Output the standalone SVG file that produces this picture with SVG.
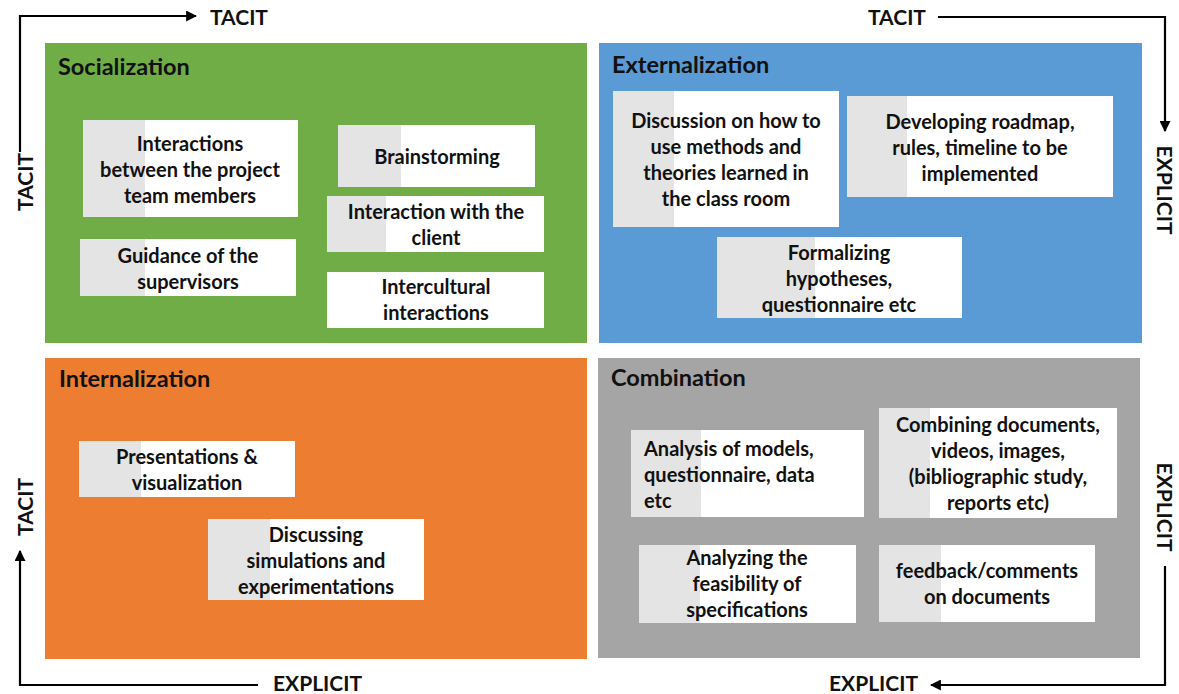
<svg xmlns="http://www.w3.org/2000/svg" width="1179" height="694" viewBox="0 0 1179 694">
<defs>
<style>
text{font-family:Lato,"Liberation Sans",sans-serif;font-weight:bold;fill:#111;}
.t{font-size:20px;text-anchor:middle;}
.l{font-size:20px;text-anchor:start;}
.h{font-size:23.5px;}
.ax{font-size:21px;}
.box{fill:#ffffff;}
.strip{fill:#e4e4e4;}
.conn{fill:none;stroke:#000;stroke-width:2.2;}
</style>
<marker id="ah" viewBox="0 0 10 10" refX="9" refY="5" markerWidth="5" markerHeight="5" orient="auto" markerUnits="strokeWidth">
<path d="M0,0 L10,5 L0,10 Z" fill="#000"/>
</marker>
</defs>
<rect width="1179" height="694" fill="#fff"/>

<g id="quadrants">
<rect id="q-soc" x="45" y="43" width="542" height="300" fill="#70ad47"/>
<rect id="q-ext" x="599" y="43" width="543" height="300" fill="#5b9bd5"/>
<rect id="q-int" x="45" y="358" width="542" height="301" fill="#ed7d31"/>
<rect id="q-com" x="598" y="358" width="542" height="300" fill="#a5a5a5"/>
<text class="h" x="58" y="75">Socialization</text>
<text class="h" x="612" y="73">Externalization</text>
<text class="h" x="59" y="387">Internalization</text>
<text class="h" x="611" y="386">Combination</text>
</g>

<g id="connectors">
<path class="conn" d="M20,152 V16 H196" marker-end="url(#ah)"/>
<path class="conn" d="M938,17 H1165 V131" marker-end="url(#ah)"/>
<path class="conn" d="M1165,566 V685 H931" marker-end="url(#ah)"/>
<path class="conn" d="M258,685 H20 V551" marker-end="url(#ah)"/>
</g>

<g id="axis-labels">
<text class="ax" x="210" y="25">TACIT</text>
<text class="ax" x="868" y="25">TACIT</text>
<text class="ax" x="273" y="691">EXPLICIT</text>
<text class="ax" x="829" y="691">EXPLICIT</text>
<text class="ax" transform="translate(33,182) rotate(-90)" text-anchor="middle">TACIT</text>
<text class="ax" transform="translate(33,507) rotate(-90)" text-anchor="middle">TACIT</text>
<text class="ax" transform="translate(1157,190) rotate(90)" text-anchor="middle">EXPLICIT</text>
<text class="ax" transform="translate(1157,507) rotate(90)" text-anchor="middle">EXPLICIT</text>
</g>

<g id="n1">
<rect class="box" x="83" y="120" width="215" height="97"/><rect class="strip" x="83" y="120" width="62" height="97"/>
<text class="t" x="190" y="151">Interactions</text>
<text class="t" x="190" y="177">between the project</text>
<text class="t" x="190" y="203">team members</text>
</g>
<g id="n2">
<rect class="box" x="80" y="239" width="216" height="57"/><rect class="strip" x="80" y="239" width="65" height="57"/>
<text class="t" x="188" y="263">Guidance of the</text>
<text class="t" x="188" y="289">supervisors</text>
</g>
<g id="n3">
<rect class="box" x="338" y="125" width="197" height="62"/><rect class="strip" x="338" y="125" width="63" height="62"/>
<text class="t" x="437" y="164">Brainstorming</text>
</g>
<g id="n4">
<rect class="box" x="327" y="196" width="217" height="56"/><rect class="strip" x="327" y="196" width="59" height="56"/>
<text class="t" x="436" y="219">Interaction with the</text>
<text class="t" x="436" y="245">client</text>
</g>
<g id="n5">
<rect class="box" x="327" y="272" width="217" height="56"/>
<text class="t" x="436" y="294">Intercultural</text>
<text class="t" x="436" y="320">interactions</text>
</g>

<g id="n6">
<rect class="box" x="613" y="91" width="226" height="136"/><rect class="strip" x="613" y="91" width="61" height="136"/>
<text class="t" x="726" y="128">Discussion on how to</text>
<text class="t" x="726" y="154">use methods and</text>
<text class="t" x="726" y="180">theories learned in</text>
<text class="t" x="726" y="206">the class room</text>
</g>
<g id="n7">
<rect class="box" x="847" y="96" width="266" height="101"/><rect class="strip" x="847" y="96" width="60" height="101"/>
<text class="t" x="980" y="129">Developing roadmap,</text>
<text class="t" x="980" y="155">rules, timeline to be</text>
<text class="t" x="980" y="181">implemented</text>
</g>
<g id="n8">
<rect class="box" x="717" y="237" width="245" height="81"/><rect class="strip" x="717" y="237" width="98" height="81"/>
<text class="t" x="839" y="260">Formalizing</text>
<text class="t" x="839" y="286">hypotheses,</text>
<text class="t" x="839" y="312">questionnaire etc</text>
</g>

<g id="n9">
<rect class="box" x="79" y="441" width="216" height="56"/><rect class="strip" x="79" y="441" width="62" height="56"/>
<text class="t" x="187" y="464">Presentations &amp;</text>
<text class="t" x="187" y="490">visualization</text>
</g>
<g id="n10">
<rect class="box" x="208" y="519" width="216" height="81"/><rect class="strip" x="208" y="519" width="62" height="81"/>
<text class="t" x="316" y="542">Discussing</text>
<text class="t" x="316" y="568">simulations and</text>
<text class="t" x="316" y="594">experimentations</text>
</g>

<g id="n11">
<rect class="box" x="631" y="430" width="233" height="87"/><rect class="strip" x="631" y="430" width="70" height="87"/>
<text class="l" x="644" y="456">Analysis of models,</text>
<text class="l" x="644" y="482">questionnaire, data</text>
<text class="l" x="644" y="508">etc</text>
</g>
<g id="n12">
<rect class="box" x="879" y="408" width="238" height="110"/><rect class="strip" x="879" y="408" width="51" height="110"/>
<text class="t" x="998" y="432">Combining documents,</text>
<text class="t" x="998" y="458">videos, images,</text>
<text class="t" x="998" y="484">(bibliographic study,</text>
<text class="t" x="998" y="510">reports etc)</text>
</g>
<g id="n13">
<rect class="box" x="639" y="545" width="217" height="78"/><rect class="strip" x="639" y="545" width="61" height="78"/>
<text class="t" x="747" y="565">Analyzing the</text>
<text class="t" x="747" y="591">feasibility of</text>
<text class="t" x="747" y="617">specifications</text>
</g>
<g id="n14">
<rect class="box" x="879" y="545" width="216" height="77"/><rect class="strip" x="879" y="545" width="62" height="77"/>
<text class="t" x="987" y="578">feedback/comments</text>
<text class="t" x="987" y="604">on documents</text>
</g>
</svg>
